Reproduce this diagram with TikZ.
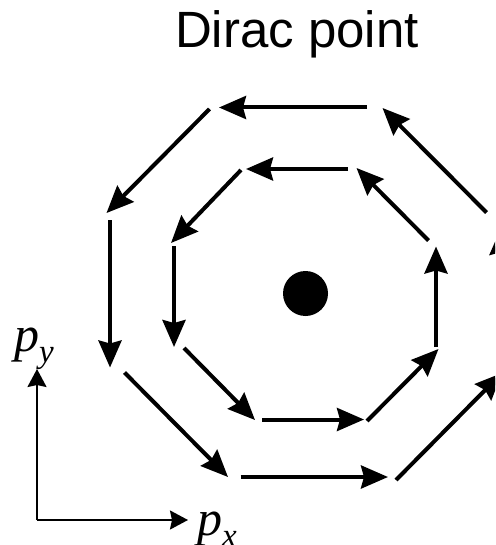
\documentclass[tikz,border=0pt]{standalone}
\usepackage{fontspec}
\setmainfont{Liberation Serif}
\newfontfamily\titlefont{Liberation Sans}
\usetikzlibrary{arrows.meta}
\begin{document}
\begin{tikzpicture}[x=1pt,y=-1pt,
  vec/.style={line width=4pt,-{Stealth[length=27pt,width=23pt,inset=3pt]}},
  axis/.style={line width=2pt,-{Stealth[length=18pt,width=19pt,inset=2pt]}},
  lbl/.style={inner sep=0pt,anchor=base west,font=\fontsize{50}{50}\selectfont\itshape}]
\useasboundingbox (0,0) rectangle (495,545);
\clip (0,0) rectangle (495,545);
\node[font=\titlefont\fontsize{51}{51}\selectfont,inner sep=0pt,anchor=base] (title) at (297,48) {Dirac point};
\fill (305.5,293.5) circle (22.5);
% inner octagon
\draw[vec] (348,169) -- (246,169);
\draw[vec] (241,170) -- (171,243);
\draw[vec] (174,246) -- (174,347);
\draw[vec] (184,348) -- (255,420);
\draw[vec] (262,419.5) -- (364,419.5);
\draw[vec] (367,421) -- (438.5,349);
\draw[vec] (436,347) -- (436,246.5);
\draw[vec] (428.5,240.5) -- (356.5,168);
% outer octagon
\draw[vec] (367,107.5) -- (219,107.5);
\draw[vec] (209.5,109) -- (106.5,213);
\draw[vec] (110,220) -- (110,367.5);
\draw[vec] (124.5,372.5) -- (228,477);
\draw[vec] (240.5,477) -- (388,477);
\draw[vec] (396,480) -- (502,373);
\draw[vec] (501,365) -- (501,228);
\draw[vec] (486.5,212.5) -- (382.5,108);
% axes
\coordinate (o) at (37,520);
\coordinate (ytip) at (37,369);
\coordinate (xtip) at (188,520);
\draw[axis] (o) -- (ytip);
\draw[axis] (o) -- (xtip);
\node[lbl] (py) at (14,351) {p\raisebox{-0.22em}{\fontsize{33}{33}\selectfont y}};
\node[lbl] (px) at (197,535) {p\raisebox{-0.22em}{\fontsize{33}{33}\selectfont x}};
\end{tikzpicture}
\end{document}
